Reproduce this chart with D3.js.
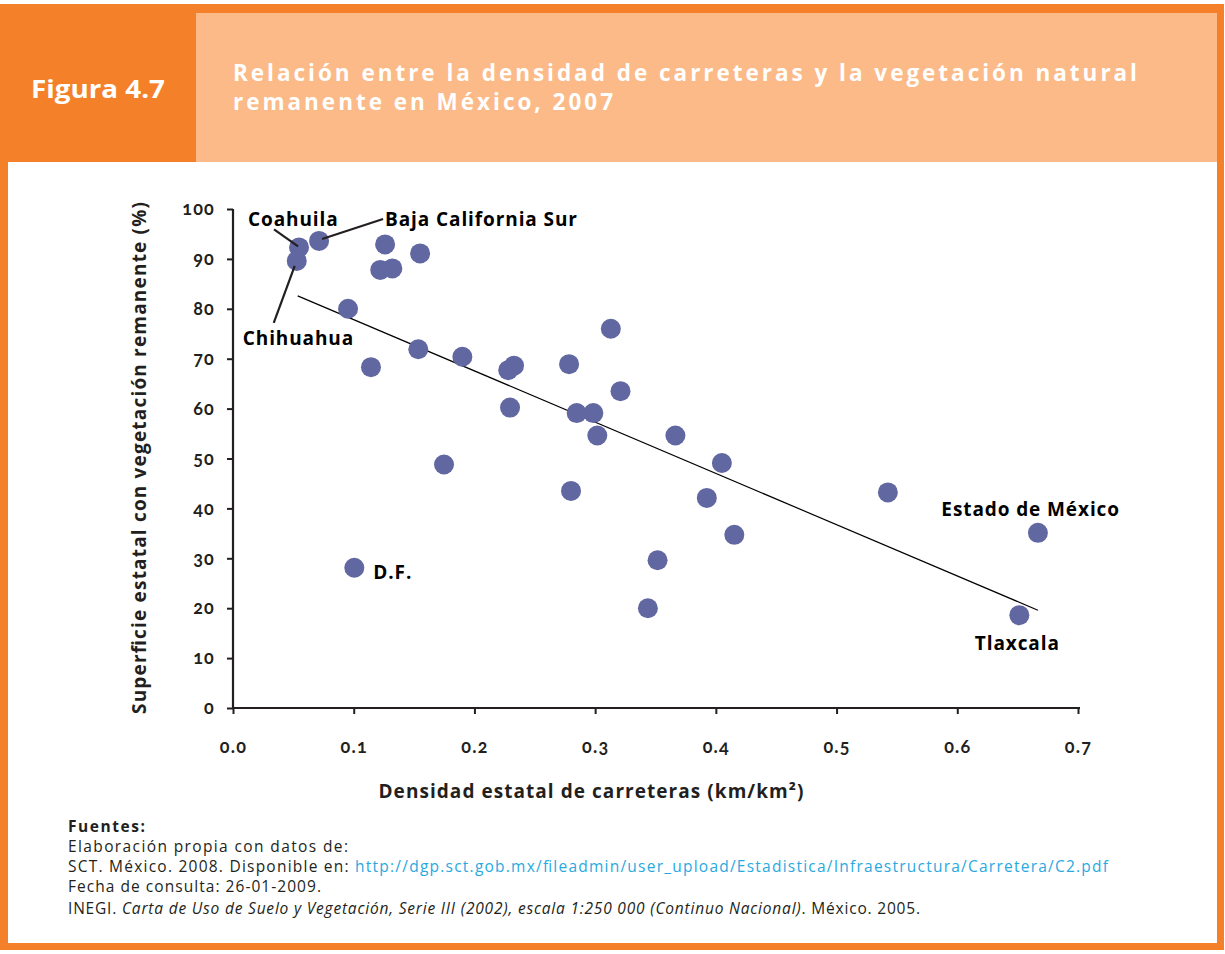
<!DOCTYPE html>
<html><head><meta charset="utf-8">
<script src="https://cdn.jsdelivr.net/npm/d3@7"></script>
<style>
body{margin:0;background:#fff}
svg{display:block}
text{font-family:"Open Sans","DejaVu Sans",sans-serif}
.num{font-family:Lato,"Open Sans",sans-serif;font-variant-numeric:oldstyle-nums;font-feature-settings:"onum" 1}
</style></head>
<body><svg id="c" width="1225" height="954"></svg>
<script>
// ---- data ----
const estados = ["Coahuila","Chihuahua","Baja California Sur","","","","","","","","","","","","","","","","","","","D.F.","","","","","","","Estado de México","","","Tlaxcala"];
const densidad = [0.0547,0.0528,0.0713,0.126,0.122,0.132,0.155,0.0953,0.1535,0.1143,0.190,0.228,0.2328,0.2295,0.2784,0.313,0.321,0.2847,0.2985,0.3018,0.1748,0.1005,0.280,0.3665,0.405,0.3925,0.5425,0.4153,0.6668,0.3517,0.3437,0.6514];
const vegetacion = [92.3,89.6,93.6,92.9,87.8,88.1,91.1,80.0,71.9,68.3,70.4,67.7,68.6,60.2,68.9,76.0,63.5,59.1,59.1,54.6,48.8,28.1,43.5,54.6,49.1,42.1,43.2,34.7,35.1,29.6,20.0,18.6];
const xTicks = [0,0.1,0.2,0.3,0.4,0.5,0.6,0.7];
const yTicks = [0,10,20,30,40,50,60,70,80,90,100];
const tendenciaX = [0.0536,0.6668];
const tendenciaY = [82.6,19.6];
const figura = "Figura 4.7";
const tituloLineas = ["Relación entre la densidad de carreteras y la vegetación natural","remanente en México, 2007"];
const ejeX = "Densidad estatal de carreteras (km/km²)";
const ejeY = "Superficie estatal con vegetación remanente (%)";

// ---- layout ----
const svg = d3.select("#c");
const ORANGE = "#f4812a", LIGHT = "#fbba87", DARK = "#231f20", DOT = "#6167a0", LINK = "#29a9e1";

svg.append("rect").attr("x",0).attr("y",4).attr("width",1224).attr("height",946).attr("fill",ORANGE);
svg.append("rect").attr("x",8).attr("y",13).attr("width",1209).attr("height",930).attr("fill","#fff");
svg.append("rect").attr("x",0).attr("y",4).attr("width",196).attr("height",158).attr("fill",ORANGE);
svg.append("rect").attr("x",196).attr("y",13).attr("width",1021).attr("height",149).attr("fill",LIGHT);

svg.append("text").attr("x",31).attr("y",98).attr("fill","#fff")
  .attr("font-size",25).attr("font-weight",700).attr("textLength",134).attr("lengthAdjust","spacingAndGlyphs")
  .text(figura);
const tl = [[233,81,904],[233,110,380]];
tituloLineas.forEach((t,i)=>{
  svg.append("text").attr("x",tl[i][0]).attr("y",tl[i][1]).attr("fill","#fff")
    .attr("font-size",22.5).attr("font-weight",700).attr("textLength",tl[i][2]).attr("lengthAdjust","spacing")
    .text(t);
});

// ---- scales ----
const x = d3.scaleLinear().domain([0,0.7]).range([233,1078]);
const y = d3.scaleLinear().domain([0,100]).range([708,209]);

const gx = svg.append("g").attr("transform","translate(0,708)")
  .call(d3.axisBottom(x).tickValues(xTicks).tickFormat(d3.format(".1f")).tickSize(6).tickSizeOuter(0).tickPadding(26));
const gy = svg.append("g").attr("transform","translate(233,0)")
  .call(d3.axisLeft(y).tickValues(yTicks).tickFormat(d3.format("d")).tickSize(6).tickSizeOuter(0).tickPadding(12));
[gx,gy].forEach(g=>{
  g.select(".domain").attr("stroke",DARK).attr("stroke-width",2.2);
  g.selectAll(".tick line").attr("stroke",DARK).attr("stroke-width",2);
  g.selectAll(".tick text").attr("class","num").attr("fill",DARK).attr("font-size",18).attr("font-weight",700)
    .attr("letter-spacing",1.2);
});
gx.select(".domain").attr("d","M233,0H1080");
gy.select(".domain").attr("d","M0,708V209");

svg.append("text").attr("x",591).attr("y",798).attr("text-anchor","middle").attr("fill",DARK)
  .attr("font-size",19).attr("font-weight",700).attr("textLength",425).attr("lengthAdjust","spacing").text(ejeX);
svg.append("text").attr("transform","translate(146,458) rotate(-90)").attr("text-anchor","middle").attr("fill",DARK)
  .attr("font-size",19).attr("font-weight",700).attr("textLength",512).attr("lengthAdjust","spacing").text(ejeY);

// ---- trend line ----
svg.append("line").attr("x1",x(tendenciaX[0])).attr("y1",y(tendenciaY[0]))
  .attr("x2",x(tendenciaX[1])).attr("y2",y(tendenciaY[1])).attr("stroke","#000").attr("stroke-width",1.2);

// ---- points ----
const pts = densidad.map((d,i)=>({x:d,y:vegetacion[i],n:estados[i]}));
svg.append("g").selectAll("circle").data(pts).join("circle")
  .attr("cx",d=>x(d.x)).attr("cy",d=>y(d.y)).attr("r",10).attr("fill",DOT);

// ---- annotations (placement relative to point) ----
const notas = {
  "Coahuila":{dx:-51,dy:-21,anchor:"start",lead:[-1,-1,-25,-18]},
  "Baja California Sur":{dx:66,dy:-15,anchor:"start",lead:[3,-2,64,-22]},
  "Chihuahua":{dx:-54,dy:84,anchor:"start",lead:[-2,5,-23,62]},
  "D.F.":{dx:19,dy:11,anchor:"start"},
  "Estado de México":{dx:82,dy:-17,anchor:"end"},
  "Tlaxcala":{dx:-2,dy:35,anchor:"middle"}
};
pts.filter(p=>p.n).forEach(p=>{
  const a = notas[p.n], px = x(p.x), py = y(p.y);
  if(a.lead) svg.append("line").attr("x1",px+a.lead[0]).attr("y1",py+a.lead[1])
    .attr("x2",px+a.lead[2]).attr("y2",py+a.lead[3]).attr("stroke",DARK).attr("stroke-width",2.2);
  svg.append("text").attr("x",px+a.dx).attr("y",py+a.dy).attr("text-anchor",a.anchor)
    .attr("fill","#000").attr("font-size",19).attr("font-weight",700).attr("letter-spacing",0.9).text(p.n);
});

// ---- footer ----
const f = svg.append("g").attr("fill",DARK).attr("font-size",15.5);
f.append("text").attr("x",68).attr("y",832).attr("font-weight",700).attr("textLength",77).attr("lengthAdjust","spacing").text("Fuentes:");
f.append("text").attr("x",68).attr("y",852).attr("textLength",280).attr("lengthAdjust","spacing").text("Elaboración propia con datos de:");
const l3 = f.append("text").attr("x",68).attr("y",872).attr("textLength",1040).attr("lengthAdjust","spacing");
l3.append("tspan").text("SCT. México. 2008. Disponible en: ");
l3.append("tspan").attr("fill",LINK).text("http://dgp.sct.gob.mx/fileadmin/user_upload/Estadistica/Infraestructura/Carretera/C2.pdf");
f.append("text").attr("x",68).attr("y",892).attr("textLength",253).attr("lengthAdjust","spacing").text("Fecha de consulta: 26-01-2009.");
const l5 = f.append("text").attr("x",68).attr("y",914).attr("textLength",852).attr("lengthAdjust","spacing");
l5.append("tspan").text("INEGI. ");
l5.append("tspan").attr("font-style","italic").text("Carta de Uso de Suelo y Vegetación, Serie III (2002), escala 1:250 000 (Continuo Nacional)");
l5.append("tspan").text(". México. 2005.");
</script></body></html>
